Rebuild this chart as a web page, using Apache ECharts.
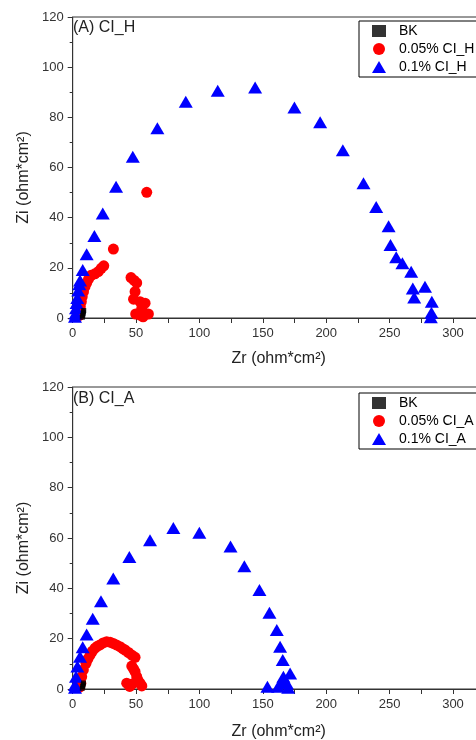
<!DOCTYPE html>
<html>
<head>
<meta charset="utf-8">
<script src="https://cdn.jsdelivr.net/npm/echarts@6/dist/echarts.min.js"></script>
<style>
  html, body { margin: 0; padding: 0; background: #fff; }
  #chart { width: 476px; height: 740px; }
</style>
</head>
<body>
<div id="chart"></div>
<script>
// panel A (CI_H)
var bkA = [[7.6, 0.3], [7.9, 1.0], [8.2, 1.7], [8.5, 2.4], [8.7, 3.0]];
var redA = [[5.0, 1.0], [5.4, 2.5], [6.0, 4.5], [6.8, 6.5], [7.5, 8.5], [8.5, 10.5], [9.7, 12.5],
  [11.0, 14.0], [12.5, 15.5], [14.5, 17.0], [17.5, 17.6], [20.2, 18.5], [22.5, 19.8], [24.5, 20.8],
  [32.1, 27.5], [58.4, 50.1], [46.0, 16.1], [48.5, 15.0], [50.5, 14.0], [49.2, 10.5], [48.0, 7.5],
  [53.1, 6.5], [57.1, 5.9], [54.5, 3.9], [59.7, 1.6], [53.1, 1.2], [49.7, 1.6], [55.5, 0.5]];
var blueA = [[1.8, 0.5], [2.2, 1.8], [2.6, 3.9], [3.1, 6.0], [3.6, 8.0], [4.4, 11.0], [5.2, 13.5],
  [5.8, 15.0], [7.9, 19.1], [11.0, 25.4], [17.1, 32.7], [23.7, 41.7], [34.2, 52.3], [47.4, 64.3],
  [66.8, 75.6], [89.2, 86.2], [114.4, 90.6], [143.9, 91.9], [174.9, 83.9], [195.2, 78.0],
  [213.1, 66.9], [229.4, 53.7], [239.4, 44.3], [249.2, 36.6], [250.7, 29.1], [255.2, 24.2],
  [260.1, 21.8], [267.0, 18.4], [268.3, 11.8], [277.9, 12.5], [269.4, 8.2], [283.3, 6.5],
  [283.0, 2.1], [282.5, 0.3]];

// panel B (CI_A)
var bkB = [[7.6, 0.3], [7.9, 1.0], [8.2, 1.7], [8.5, 2.4]];
var redB = [[5.5, 0.8], [6.4, 2.3], [7.1, 4.9], [8.4, 7.6], [10.5, 10.2], [12.0, 12.0], [13.7, 13.5],
  [15.5, 15.0], [17.6, 16.2], [19.5, 17.0], [21.5, 17.5], [24.0, 18.3], [26.8, 18.8], [29.5, 18.6],
  [32.0, 18.1], [34.5, 17.5], [37.3, 16.8], [39.5, 16.0], [41.3, 15.5], [44.0, 14.5], [46.6, 13.5],
  [49.2, 12.6], [46.6, 9.1], [48.0, 8.0], [49.2, 6.9], [50.5, 4.9], [51.5, 3.5], [53.1, 2.3],
  [54.5, 1.2], [47.0, 2.0], [42.6, 2.3], [45.0, 1.0]];
var blueB = [[1.8, 0.5], [1.8, 1.6], [2.6, 4.9], [3.7, 8.9], [5.8, 12.8], [7.9, 16.6], [11.0, 21.7],
  [15.8, 27.9], [22.3, 34.9], [32.0, 43.9], [44.7, 52.5], [61.0, 59.1], [79.4, 64.0], [99.9, 62.1],
  [124.5, 56.6], [135.4, 48.8], [147.3, 39.3], [155.2, 30.3], [161.0, 23.4], [163.6, 16.8],
  [165.7, 11.5], [171.5, 6.2], [166.2, 4.9], [165.0, 2.3], [168.9, 2.3], [162.0, 0.9],
  [153.6, 0.9], [170.0, 0.5]];

var namesA = ['BK', '0.05% CI_H', '0.1% CI_H'];
var namesB = ['BK', '0.05% CI_A', '0.1% CI_A'];
var panelTitles = ['(A) CI_H', '(B) CI_A'];
var xName = 'Zr (ohm*cm²)';
var yName = 'Zi (ohm*cm²)';

var font = 'Liberation Sans, Arial, sans-serif';
var axisCol = '#333';

function xAx(idx, gap) {
  return {
    type: 'value', gridIndex: idx, min: 0, max: 325, interval: 25,
    name: xName, nameLocation: 'middle', nameGap: gap,
    nameTextStyle: { fontSize: 16, color: '#222', fontFamily: font },
    axisLine: { lineStyle: { color: axisCol } },
    axisTick: { length: 5, lineStyle: { color: axisCol } },
    axisLabel: {
      fontSize: 13, color: '#333', fontFamily: font, margin: 9,
      formatter: function (v) { return v % 50 === 0 ? v : ''; }
    },
    splitLine: { show: false }
  };
}

function yAx(idx) {
  return {
    type: 'value', gridIndex: idx, min: 0, max: 120, interval: 20,
    name: yName, nameLocation: 'middle', nameGap: 38,
    nameTextStyle: { fontSize: 16, color: '#222', fontFamily: font, padding: [0, 20, 0, 0] },
    axisLine: { show: true, lineStyle: { color: axisCol } },
    axisTick: { length: 5, lineStyle: { color: axisCol } },
    minorTick: { show: true, splitNumber: 2, length: 3, lineStyle: { color: axisCol } },
    axisLabel: { fontSize: 13, color: '#333', fontFamily: font, margin: 9 },
    splitLine: { show: false }
  };
}

function legend(names, top) {
  return {
    orient: 'vertical', left: 359, top: top,
    data: [
      { name: names[0], icon: 'rect' },
      { name: names[1], icon: 'circle' },
      { name: names[2], icon: 'triangle' }
    ],
    itemWidth: 14, itemHeight: 12, itemGap: 4,
    padding: [3, 20, 3, 13],
    borderColor: '#000', borderWidth: 1,
    textStyle: { fontSize: 14, lineHeight: 14, color: '#000', fontFamily: font, padding: [0, 0, 0, 8] }
  };
}

function sers(names, bk, red, blue, idx) {
  return [
    { name: names[0], type: 'scatter', xAxisIndex: idx, yAxisIndex: idx, data: bk,
      symbol: 'rect', symbolSize: 5, itemStyle: { color: '#000' }, z: 4 },
    { name: names[1], type: 'scatter', xAxisIndex: idx, yAxisIndex: idx, data: red,
      symbol: 'circle', symbolSize: 11, itemStyle: { color: '#ff0000', opacity: 1 }, z: 2 },
    { name: names[2], type: 'scatter', xAxisIndex: idx, yAxisIndex: idx, data: blue,
      symbol: 'triangle', symbolSize: [14, 12], itemStyle: { color: '#0000ff', opacity: 1 }, z: 3 }
  ];
}

var chart = echarts.init(document.getElementById('chart'), null, { renderer: 'canvas' });

var option = {
  animation: false,
  backgroundColor: '#fff',
  title: [
    { text: panelTitles[0], left: 73, top: 20, padding: 0,
      textStyle: { fontSize: 16, fontWeight: 'normal', color: '#222', fontFamily: font } },
    { text: panelTitles[1], left: 73, top: 391, padding: 0,
      textStyle: { fontSize: 16, fontWeight: 'normal', color: '#222', fontFamily: font } }
  ],
  legend: [legend(namesA, 21), legend(namesB, 393)],
  grid: [
    { left: 72.7, top: 17, width: 412, height: 301, show: true, borderColor: axisCol, borderWidth: 1,
      outerBoundsMode: 'none' },
    { left: 72.7, top: 387, width: 412, height: 302, show: true, borderColor: axisCol, borderWidth: 1,
      outerBoundsMode: 'none' }
  ],
  xAxis: [xAx(0, 33), xAx(1, 35)],
  yAxis: [yAx(0), yAx(1)],
  series: sers(namesA, bkA, redA, blueA, 0).concat(sers(namesB, bkB, redB, blueB, 1))
};

chart.setOption(option);
</script>
</body>
</html>
